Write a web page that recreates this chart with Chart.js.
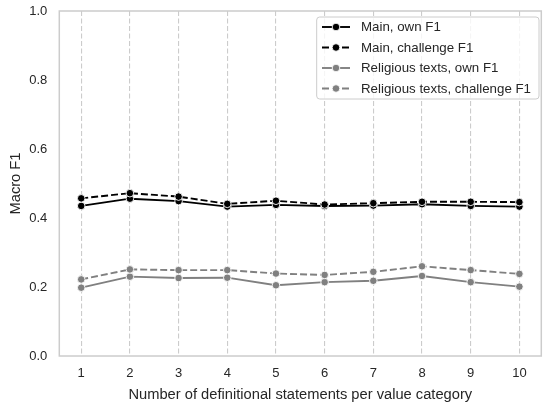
<!DOCTYPE html>
<html>
<head>
<meta charset="utf-8">
<script src="https://cdn.jsdelivr.net/npm/chart.js@4"></script>
<style>
  html, body { margin: 0; padding: 0; background: #fff; overflow: hidden; }
  #wrap { width: 546px; height: 405px; }
</style>
</head>
<body>
<div id="wrap"><canvas id="grafico"></canvas></div>
<script>
// Datos
const categorias = [1, 2, 3, 4, 5, 6, 7, 8, 9, 10];
const mainOwn = [0.435, 0.456, 0.449, 0.433, 0.438, 0.435, 0.436, 0.440, 0.435, 0.433];
const mainChallenge = [0.457, 0.472, 0.462, 0.441, 0.450, 0.439, 0.443, 0.447, 0.447, 0.446];
const relOwn = [0.198, 0.230, 0.226, 0.227, 0.205, 0.214, 0.218, 0.232, 0.214, 0.201];
const relChallenge = [0.222, 0.251, 0.249, 0.249, 0.239, 0.235, 0.244, 0.260, 0.249, 0.238];
const yTicks = [0, 0.2, 0.4, 0.6, 0.8, 1.0];

const fuente = "'Liberation Sans', Arial, sans-serif";
const texto = '#262626';
const gris = '#cccccc';

const serie = (label, valores, color, dash, orden) => ({
    label: label,
    data: valores.map((v, i) => ({ x: categorias[i], y: v })),
    borderColor: color,
    backgroundColor: color,
    borderWidth: 1.9,
    borderDash: dash,
    pointRadius: 3.8,
    pointHoverRadius: 3.8,
    pointBackgroundColor: color,
    pointBorderColor: '#ffffff',
    pointBorderWidth: 0.9,
    tension: 0,
    order: orden
});

const datasets = [
    serie('Main, own F1', mainOwn, '#000000', [], 4),
    serie('Main, challenge F1', mainChallenge, '#000000', [7, 3], 3),
    serie('Religious texts, own F1', relOwn, '#808080', [], 2),
    serie('Religious texts, challenge F1', relChallenge, '#808080', [7, 3], 1)
];

// Marco de los ejes (cuatro lados)
const marco = {
    id: 'marco',
    afterDatasetsDraw(chart) {
        const { ctx, chartArea: a } = chart;
        ctx.save();
        ctx.strokeStyle = gris;
        ctx.lineWidth = 1.5;
        ctx.setLineDash([]);
        ctx.strokeRect(a.left, a.top, a.right - a.left, a.bottom - a.top);
        ctx.restore();
    }
};

// Leyenda dentro del area del grafico
const leyenda = {
    id: 'leyenda',
    afterDraw(chart) {
        const ctx = chart.ctx;
        const x0 = 316.7, y0 = 17, x1 = 539, y1 = 99;
        ctx.save();
        ctx.beginPath();
        ctx.roundRect(x0, y0, x1 - x0, y1 - y0, 3);
        ctx.fillStyle = 'rgba(255,255,255,0.8)';
        ctx.fill();
        ctx.strokeStyle = gris;
        ctx.lineWidth = 1;
        ctx.stroke();
        const filas = [27, 47.5, 68, 88.5];
        chart.data.datasets.forEach((ds, i) => {
            const y = filas[i];
            ctx.beginPath();
            ctx.setLineDash(ds.borderDash);
            ctx.strokeStyle = ds.borderColor;
            ctx.lineWidth = ds.borderWidth;
            ctx.moveTo(322, y);
            ctx.lineTo(350, y);
            ctx.stroke();
            ctx.setLineDash([]);
            ctx.beginPath();
            ctx.arc(336, y, 3.8, 0, Math.PI * 2);
            ctx.fillStyle = ds.borderColor;
            ctx.fill();
            ctx.strokeStyle = '#ffffff';
            ctx.lineWidth = 0.9;
            ctx.stroke();
            ctx.fillStyle = texto;
            ctx.font = '13.3px ' + fuente;
            ctx.textBaseline = 'middle';
            ctx.textAlign = 'left';
            ctx.fillText(ds.label, 361, y + 0.5);
        });
        ctx.restore();
    }
};

new Chart(document.querySelector('#grafico'), {
    type: 'line',
    data: { datasets: datasets },
    options: {
        responsive: true,
        maintainAspectRatio: false,
        animation: false,
        devicePixelRatio: 1,
        layout: { padding: { left: 0, top: 11, right: 0.6, bottom: 0 } },
        plugins: { legend: { display: false }, tooltip: { enabled: false } },
        scales: {
            x: {
                type: 'linear',
                min: 0.55,
                max: 10.45,
                afterBuildTicks: (scale) => { scale.ticks = categorias.map(v => ({ value: v })); },
                afterFit: (scale) => { scale.height = 49; scale.paddingLeft = 0; scale.paddingRight = 0; },
                grid: { color: gris, lineWidth: 1.1, drawTicks: false },
                border: { display: false, dash: [5, 2.5] },
                ticks: { padding: 10, color: texto, font: { family: fuente, size: 13 }, maxRotation: 0 },
                title: {
                    display: true,
                    text: 'Number of definitional statements per value category',
                    color: texto,
                    font: { family: fuente, size: 14.7 },
                    padding: { top: 0, bottom: 1.5 }
                }
            },
            y: {
                min: 0,
                max: 1,
                afterBuildTicks: (scale) => { scale.ticks = yTicks.map(v => ({ value: v })); },
                afterFit: (scale) => { scale.width = 59.3; scale.paddingTop = 0; scale.paddingBottom = 0; },
                grid: { display: false, drawTicks: false },
                border: { display: false },
                ticks: { padding: 12, color: texto, font: { family: fuente, size: 13 }, callback: v => v.toFixed(1) },
                title: {
                    display: true,
                    text: 'Macro F1',
                    color: texto,
                    font: { family: fuente, size: 14.7 },
                    padding: { top: 7, bottom: 0 }
                }
            }
        }
    },
    plugins: [marco, leyenda]
});
</script>
</body>
</html>
